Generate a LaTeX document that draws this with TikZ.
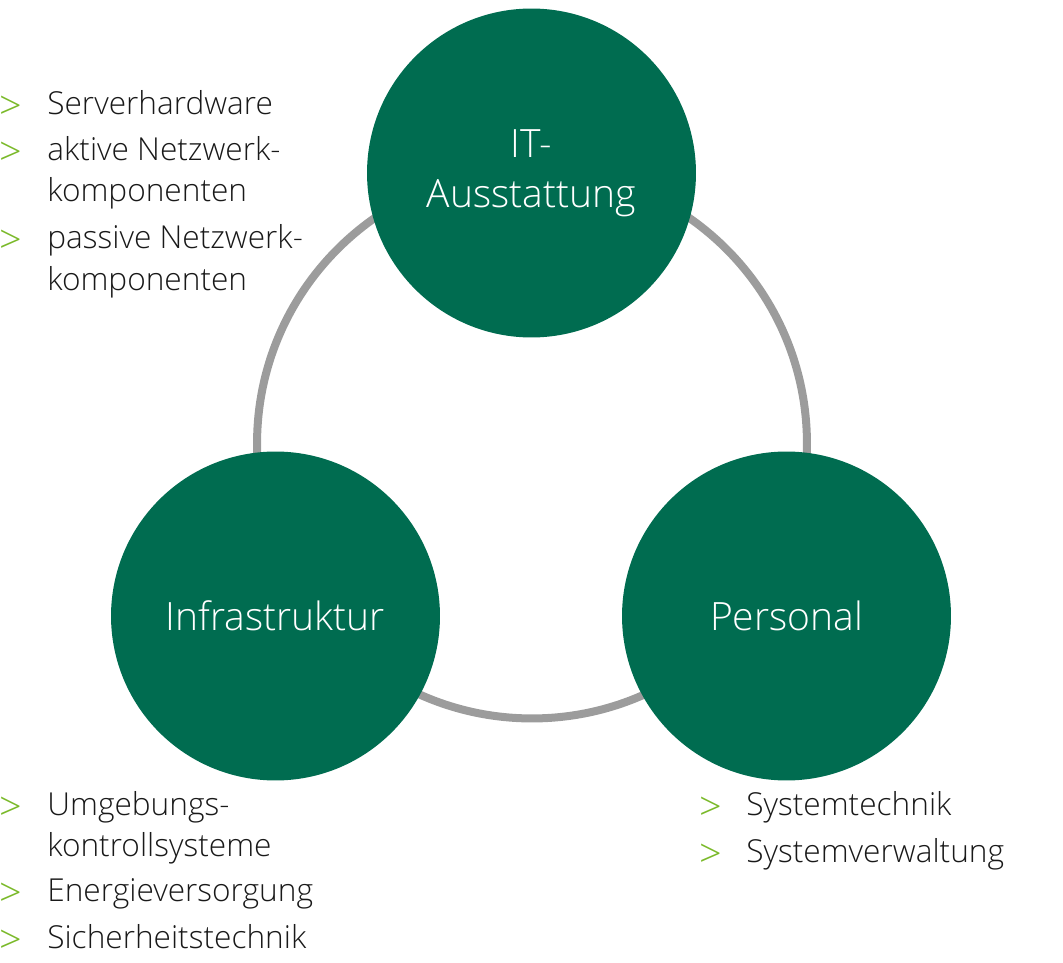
\documentclass[tikz,border=0pt]{standalone}
\usepackage{fontspec}
\setmainfont{Open Sans Light}
\definecolor{dgreen}{HTML}{006C50}
\definecolor{lgreen}{HTML}{7AB929}
\definecolor{ringgray}{HTML}{9C9C9C}
\tikzset{
  bubble/.style={circle, fill=dgreen, draw=none, minimum size=6.58cm, inner sep=0pt,
    text=white, align=center, font=\fontsize{22.2}{28.5}\selectfont},
  bul/.style={anchor=base west, inner sep=0pt, text=lgreen, font=\fontsize{22.5}{24}\selectfont},
  item/.style={anchor=base west, inner sep=0pt, text=black!90, font=\fontsize{18}{20}\selectfont},
  ring/.style={draw=ringgray, line width=0.16cm}
}
\begin{document}
\begin{tikzpicture}[x=0.02cm,y=-0.02cm]
\useasboundingbox (0,0) rectangle (1063,963);
\draw[ring] (532,443.5) circle[radius=5.5cm];
\node[bubble] (it) at (531.5,173) {IT-\\Ausstattung};
\node[bubble] (infra) at (275.5,616) {Infrastruktur};
\node[bubble] (pers) at (786.5,616) {Personal};
% top-left list
\node[bul] (b1) at (-1,120) {>};
\node[item] (t1) at (47,115) {Serverhardware};
\node[bul] (b2) at (-1,166) {>};
\node[item] (t2) at (47,161) {aktive Netzwerk-};
\node[item] (t2b) at (47,202) {komponenten};
\node[bul] (b3) at (-1,254) {>};
\node[item] (t3) at (47,249) {passive Netzwerk-};
\node[item] (t3b) at (47,291) {komponenten};
% bottom-left list
\node[bul] (b4) at (-1,820) {>};
\node[item] (t4) at (47,815) {Umgebungs-};
\node[item] (t4b) at (47,856) {kontrollsysteme};
\node[bul] (b5) at (-1,906) {>};
\node[item] (t5) at (47,901) {Energieversorgung};
\node[bul] (b6) at (-1,953) {>};
\node[item] (t6) at (47,948) {Sicherheitstechnik};
% right list
\node[bul] (b7) at (699,820) {>};
\node[item] (t7) at (746,815) {Systemtechnik};
\node[bul] (b8) at (699,867) {>};
\node[item] (t8) at (746,862) {Systemverwaltung};
\end{tikzpicture}
\end{document}
